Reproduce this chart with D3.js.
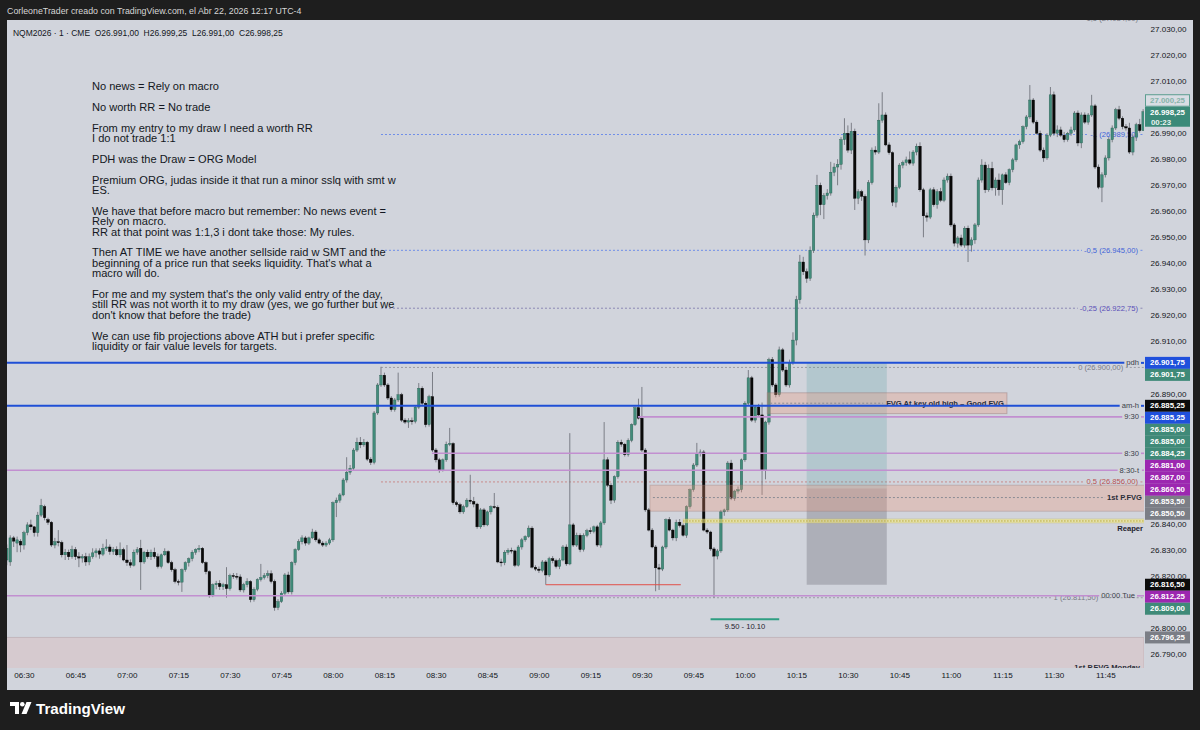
<!DOCTYPE html>
<html>
<head>
<meta charset="utf-8">
<title>NQM2026 · 1 · CME</title>
<script src="https://cdn.jsdelivr.net/npm/d3@7/dist/d3.min.js"></script>
<style>
  html, body { margin:0; padding:0; background:#1e1e1e; overflow:hidden; }
  svg { display:block; }
  text { font-family: "Liberation Sans", Arial, sans-serif; white-space: pre; }
</style>
</head>
<body>
<svg id="chart" width="1200" height="730"></svg>
<script>
// ================= DATA =================
const headerText = "CorleoneTrader creado con TradingView.com, el Abr 22, 2026 12:17 UTC-4";
const symbolName = "NQM2026 · 1 · CME";
const sessionDate = [2026, 3, 22];
const firstBarTime = "06:25";
const countdown = "00:23";

// 1-minute bars [open, high, low, close]
const bars0625 = [
[26826,26832,26824,26830.5],[26825.25,26835.5,26823.75,26834.5],[26834.5,26835.25,26831,26833.25],[26832.5,26835,26829,26833.75],
[26833.25,26834,26829,26831.75],[26831.75,26837.25,26830,26836.5],[26836.5,26840.5,26835.5,26839.5],[26839.5,26841.5,26837.5,26838.75],
[26838.75,26839,26835,26836.5],[26836.5,26844.5,26835,26843.25],[26843.25,26849.5,26842.5,26847],[26846.5,26847.25,26841.25,26842.25],
[26841.5,26842.25,26839.5,26840.5],[26840.5,26841,26831,26831.75],[26831.75,26834.5,26830.5,26833],[26833,26837.5,26831.25,26832.75],
[26832.75,26833.5,26827,26828],[26828,26830.25,26826,26829],[26829,26830,26826,26827.25],[26827.25,26831.5,26826.5,26830],
[26830,26831,26826,26827.25],[26827.25,26829,26823.25,26826.75],[26826.75,26828.25,26825,26827.25],[26827.25,26828.75,26823.75,26825.25],
[26825.25,26828.5,26824,26827.25],[26827.25,26830.5,26826.5,26828.75],[26828.75,26830.5,26827,26829.5],[26829.5,26830.5,26826.5,26828.25],
[26828.25,26832.25,26827.5,26830.5],[26830.5,26834,26829.5,26831],[26831,26832,26828,26829.25],[26829.25,26831,26828,26830],
[26830,26831.25,26827.5,26828],[26828,26832.75,26827,26830],[26830,26830.75,26825.5,26826]
];
const bars0700 = [
[26826,26831.75,26823.75,26825],[26825,26826.25,26823,26824],[26824,26830,26823.5,26829],[26829,26831,26828,26830],
[26830.5,26833.75,26814.5,26825.25],[26825.25,26829.5,26824.5,26829],[26829,26830,26826.5,26827.25],[26827.25,26830,26826,26829],
[26829,26830.75,26826.5,26827.25],[26827.25,26828.5,26822.75,26823.5],[26823.5,26828.5,26822.75,26828],[26828,26830.5,26827.5,26829.25],
[26829.25,26829.75,26824.5,26825],[26825,26825.75,26821.5,26822.25],[26822.25,26823,26817,26817.75],[26817.75,26818.5,26816.25,26817.5],
[26817.5,26822.75,26813.75,26822.25],[26822.25,26825.5,26821.5,26825],[26825,26827,26823.5,26826.5],[26826.5,26829.75,26825.5,26829],
[26829,26830.5,26828,26830],[26830,26831.75,26829,26830.5],[26830.5,26831,26824.5,26825],[26825,26825.5,26820.5,26821.5],
[26821.5,26822,26811.5,26812.5],[26812.5,26817,26811.75,26816.5],[26816.5,26818,26814.75,26817],[26817,26818.25,26814.5,26815.75],
[26815.75,26817.25,26814.5,26816.5],[26816.5,26823.25,26811.5,26815],[26815,26820.75,26814.25,26820],[26820,26821,26818.75,26819.75],
[26819.75,26821,26818.5,26819.5],[26819.5,26820.5,26813.75,26814.5],[26814.5,26817.25,26813.5,26816.5],[26816.5,26819,26815.5,26817.75],
[26817.75,26818.25,26809.75,26810.75],[26810.75,26815.5,26810,26814.75],[26814.75,26819,26814,26818.5],[26818.5,26824.5,26817.75,26819.25],
[26819.25,26821,26818.5,26820],[26820,26822,26819,26820.75],[26820.75,26822,26817,26817.75],[26817.75,26818.5,26806.5,26807.75],
[26807.75,26811,26806.75,26810],[26810,26814,26809.5,26813.25],[26813.25,26821,26812.5,26820.25],[26820.25,26821.5,26813,26813.75],
[26813.75,26825.5,26812.75,26825],[26825,26830.5,26824,26830],[26830,26834,26829.5,26833],[26833,26835.5,26832,26834.5],
[26834.5,26835.25,26831.5,26832.5],[26832.5,26835,26831.75,26834.5],[26834.5,26838,26834,26836.75],[26836.75,26837.5,26833,26833.75],
[26833.75,26834.5,26832,26832.5],[26832.5,26833.25,26831,26831.75],[26831.75,26833.25,26831,26832.5],[26832.5,26834.5,26831.75,26833.75]
];
const bars0800 = [
[26833.75,26848.5,26833,26848],[26848,26850,26842.5,26849],[26849,26851.75,26848,26851],[26851,26857.5,26850.5,26856.75],
[26856.75,26865.5,26855.75,26859.75],[26859.75,26862.5,26858.75,26861.25],[26861.25,26869,26860.5,26868.25],[26868.25,26873,26867.5,26871.25],
[26871.25,26873.25,26869,26870.25],[26870.25,26872.5,26869.5,26871.25],[26871.25,26871.75,26864,26864.75],[26864.75,26865.5,26862.5,26863.5],
[26863.5,26883.25,26862.75,26882.5],[26882.5,26894,26881.75,26893.25],[26893.25,26900.25,26892.5,26897],[26897,26898,26892.5,26893.25],
[26893.25,26894,26887.5,26888.25],[26888.25,26889,26883,26883.75],[26883.75,26888.25,26883,26887.5],[26887.5,26898,26886.75,26889.5],
[26889.5,26890.25,26879,26879.75],[26879.75,26880.5,26878.25,26879],[26879,26880.5,26876.75,26879.5],[26879.5,26880.75,26878,26879.25],
[26879.25,26885.5,26878.5,26884.75],[26884.75,26894,26884,26892],[26892,26892.75,26885.5,26886.25],[26886.25,26887,26877,26878],
[26878,26889.5,26877.25,26888.75],[26888.75,26898.25,26867.5,26868.25],[26868.25,26869,26863.5,26864.5],[26864.5,26865.25,26859.5,26860.5],
[26860.5,26865,26860,26864.5],[26864.5,26871.5,26863.75,26870.5],[26870.5,26876.75,26869.75,26870.75],[26870.75,26871.25,26847.25,26848],
[26848,26848.75,26846.5,26847.25],[26847.25,26848,26843.75,26844.5],[26844.5,26847.25,26843.75,26846.5],[26846.5,26849.75,26846,26849],
[26849,26858.75,26847.5,26848.5],[26848.5,26850.25,26846.25,26847.5],[26847.5,26848,26838,26838.75],[26838.75,26846,26838,26845.25],
[26845.25,26846,26838.75,26839.5],[26839.5,26845,26839,26844.5],[26844.5,26847,26843.5,26846.5],[26846.5,26851.75,26845.75,26846.25],
[26846.25,26847,26824.75,26825.25],[26825.25,26826.5,26823.5,26825],[26825,26829.75,26824,26829],[26829,26830.5,26828,26829.75],
[26829.75,26830.75,26828.5,26829.5],[26829.5,26830,26823.25,26824],[26824,26831.75,26823.5,26831],[26831,26834.5,26830,26833.75],
[26833.75,26835.5,26833,26835],[26835,26839.25,26834.5,26838.25],[26838.25,26839,26822.75,26823.25],[26823.25,26824,26821.75,26822.5]
];
const bars0900 = [
[26822.5,26823.5,26821,26822],[26822,26826,26821.25,26825.25],[26825.25,26826,26816.5,26820.25],[26820.25,26827.25,26819.5,26826.5],
[26826.5,26827.5,26824.75,26825.75],[26825.75,26826.5,26822.75,26823.5],[26823.5,26826.75,26822.5,26826],[26826,26831.75,26825.5,26831],
[26831,26832,26823.75,26824.5],[26824.5,26874.75,26824,26839.5],[26839.5,26840.25,26831,26831.75],[26831.75,26836.5,26831,26835.5],
[26835.5,26836.25,26829,26830],[26830,26836.25,26829.25,26835.5],[26835.5,26838,26834.75,26837.25],[26837.25,26838.5,26836,26837],
[26837,26839.25,26836.25,26838.75],[26838.75,26839.5,26831,26831.75],[26831.75,26841,26830.75,26840.25],[26840.25,26879,26839.5,26864.5],
[26864.5,26865.5,26854,26854.75],[26854.75,26855.5,26847.5,26849],[26849,26858.5,26848,26858],[26858,26872,26857.25,26871.25],
[26871.25,26872.25,26869.5,26870.5],[26870.5,26871,26865.75,26866.5],[26866.5,26872.75,26865.75,26872],[26872,26878.5,26871.25,26878],
[26878,26885,26877.5,26884.5],[26884.5,26888,26880,26880.5],[26880.5,26892.5,26867.5,26868.25],[26868.25,26869,26844.5,26845.25],
[26845.25,26846,26837,26837.5],[26837.5,26838.25,26830.5,26831],[26831,26831.75,26814,26823],[26823,26824.5,26814.5,26822.5],
[26822.5,26831.5,26821.75,26831],[26831,26842,26830.25,26841.5],[26841.5,26842.5,26837,26837.5],[26837.5,26838,26833.5,26834.5],
[26834.5,26841.5,26833.25,26840.5],[26840.5,26841.75,26838.5,26839.25],[26839.25,26840,26835,26835.5],[26835.5,26847,26834.5,26846.5],
[26846.5,26853.5,26845.75,26853],[26853,26863.25,26852.25,26862.5],[26862.5,26871,26861.75,26867],[26867,26868.5,26865.75,26867.5],
[26867.5,26868.25,26837,26837.5],[26837.5,26838.25,26836,26836.75],[26836.75,26837.25,26829.5,26830.25],[26830.25,26831,26811.5,26827.5],
[26827.5,26830.25,26826.25,26829.5],[26829.5,26845.25,26828.75,26844.5],[26844.5,26845.75,26843,26845.25],[26845.25,26864,26844.5,26863.25],
[26863.25,26864.5,26849,26849.75],[26849.75,26853,26848.75,26852.5],[26852.5,26854.25,26851.5,26853],[26853,26865,26852,26864.5]
];
const bars1000 = [
[26864.5,26887,26863.75,26886.25],[26886.25,26899,26885.5,26896],[26896,26896.75,26879,26879.75],[26879.75,26885.5,26878.75,26884.75],
[26884.75,26886,26881,26881.75],[26881.75,26886.5,26851,26860.5],[26860.5,26879.5,26857,26879],[26879,26903.75,26878,26903],
[26903,26904,26892.5,26893.25],[26893.25,26894,26888.5,26889.5],[26889.5,26908,26888.75,26906.75],[26906.75,26907.5,26898.25,26899],
[26899,26900,26892.5,26893.25],[26893.25,26903,26892.25,26902],[26902,26913.5,26901,26910.5],[26910.5,26927.5,26908.5,26926],
[26926,26943.25,26924.5,26940.5],[26940.5,26942.5,26935.5,26936.75],[26936.75,26938,26932.5,26934.25],[26934.25,26946.5,26933.25,26945],
[26945,26959.5,26944,26958.5],[26958.5,26974,26957.5,26970],[26970,26971,26958.5,26962.5],[26962.5,26967,26957,26966],
[26966,26968.5,26964.5,26967],[26967,26979,26966,26975],[26975,26978.5,26973.5,26977],[26977,26980,26970,26978],
[26978,26988.5,26976,26987.5],[26987.5,26995.75,26985.5,26990],[26990,26993,26982.5,26983.5],[26983.5,26994,26982,26990.75],
[26990.75,26991.75,26960.5,26965],[26965,26968.5,26962.75,26967.5],[26967.5,26968.25,26964,26965.75],[26965.75,26966.5,26943,26949],
[26949,26972,26947.75,26971],[26971,26984.5,26970.25,26983.5],[26983.5,26985,26981.75,26982.75],[26982.75,27001.5,26982,26995],
[26995,27005.75,26994,26997],[26997,26998,26985,26985.5],[26985.5,26986.5,26981.75,26982.5],[26982.5,26983,26962,26963.5],
[26963.5,26970,26961.5,26969.25],[26969.25,26978.5,26968.5,26977.75],[26977.75,26979.5,26976.5,26978.75],[26978.75,26981,26977.5,26979.75],
[26979.75,26983,26977.75,26978.5],[26978.5,26983.5,26977.5,26982.75],[26982.75,26986,26981.5,26985],[26985,26986.5,26967.5,26968.25],
[26968.25,26969,26950,26958.25],[26958.25,26959.5,26956,26957.75],[26957.75,26969,26957,26968.25],[26968.25,26969.25,26961.75,26962.5],
[26962.5,26968.5,26961,26967.5],[26967.5,26969,26963.5,26964.25],[26964.25,26973,26963.5,26972],[26972,26974.5,26971,26973.5]
];
const bars1100 = [
[26973.5,26974.5,26954,26954.75],[26954.75,26955.5,26946.5,26947.75],[26947.75,26950.5,26946,26949.75],[26949.75,26951,26946.25,26947],
[26947,26954.25,26946,26953.5],[26953.5,26954.5,26940.5,26947],[26947,26950,26944.5,26949],[26949,26955.5,26947.5,26954.75],
[26954.75,26973,26954,26972],[26972,26980,26971,26977.75],[26977.75,26979,26967,26968.25],[26968.25,26978,26967.5,26976.5],
[26976.5,26979,26968,26969],[26969,26973,26966,26972],[26972,26974.5,26966,26968.25],[26968.25,26974.5,26962.5,26974],
[26974,26975,26970.5,26971],[26971,26976.5,26970,26976],[26976,26980.5,26975,26979.75],[26979.75,26986,26979,26985.5],
[26985.5,26987.5,26984,26986.75],[26986.75,26993,26986,26992.5],[26992.5,26997,26991.5,26996.25],[26996.25,27008.5,26995.5,27002.75],
[27002.75,27003.5,26993.5,26994.25],[26994.25,26995,26989.5,26990],[26990,26991,26982.75,26983.5],[26983.5,26984.5,26979,26980.5],
[26980.5,26990,26979.75,26989.25],[26989.25,27007.75,26988.5,27004.75],[27004.75,27006,26989,26990],[26990,26993,26988.5,26991.25],
[26991.25,26992.5,26988.5,26989.25],[26989.25,26990.5,26986.5,26987.5],[26987.5,26990.5,26986.75,26990],[26990,26992.5,26989,26991.25],
[26991.25,26998.5,26990.5,26997.75],[26997.75,26998.75,26985,26986.25],[26986.25,26998,26984.25,26997],[26997,26998,26993.5,26994.25],
[26994.25,26997.75,26993.25,26997],[26997,27004.75,26996.25,27000.5],[27000.5,27001.25,26976.25,26977],[26977,26978,26968.5,26969.25],
[26969.25,26975,26963.5,26974],[26974,26981.5,26973,26980.5],[26980.5,26988.5,26979.5,26987.5],[26987.5,26993,26986.5,26992],
[26992,26999.75,26991.25,26999],[26999,27000.5,26995,26995.75],[26995.75,26996.5,26991.5,26992.5],[26992.5,26993.5,26991,26992],
[26992,26994,26982,26982.75],[26982.75,26989.5,26981.5,26988.5],[26988.5,26994,26987,26993.25],[26993.25,26995.5,26990.25,26991],
[26991,26999.25,26991,26998.25]
];

const priceTicks = [26790,26800,26810,26820,26830,26840,26850,26860,26870,26880,26890,26900,26910,26920,26930,26940,26950,26960,26970,26980,26990,27000,27010,27020,27030];
const timeTicks = ["06:30","06:45","07:00","07:15","07:30","07:45","08:00","08:15","08:30","08:45","09:00","09:15","09:30","09:45","10:00","10:15","10:30","10:45","11:00","11:15","11:30","11:45"];

// horizontal levels
const levelNames  = ["pdh", "am-h", "9:30", "8:30", "8:30-t", "00:00 Tue"];
const levelPrices = [26901.75, 26885.25, 26881.00, 26867.00, 26860.50, 26812.25];
const levelStarts = ["06:25", "06:25", "09:30", "08:30", "06:25", "06:25"];

// fibonacci (anchored at 08:14)
const fibStart  = "08:14";
const fibRatios = [-1.5, -1, -0.5, -0.25, 0, 0.5, 1];
const fibPrices = [27034.00, 26989.50, 26945.00, 26922.75, 26900.00, 26856.00, 26811.50];

// zones
const zoneNames   = ["FVG At key old high – Good FVG", "1st P.FVG", "1st P.FVG Monday"];
const zoneTops    = [26890.25, 26854.75, 26796.25];
const zoneBottoms = [26882.25, 26844.75, 26770.00];
const zoneMids    = [26886.25, 26850.00, null];
const zoneStarts  = ["10:06:30", "09:32:20", "06:25"];
const zoneEnds    = ["11:16:20", null, null];

// long position tool
const positionStart = "10:18", positionEnd = "10:41:20";
const positionTarget = 26901.75, positionEntry = 26853.50, positionStop = 26816.50;

// other drawings
const sslqPrice = 26816.50, sslqStart = "09:02", sslqEnd = "09:41:20";
const reaperLabel = "Reaper", reaperPrice = 26841.00, reaperStart = "09:42";
const macroLabel = "9.50 - 10.10", macroStart = "09:50", macroEnd = "10:10", macroPrice = 26803.25;

// price-scale badges
const badgePrices = [27000.25, 26998.25, 26901.75, 26901.75, 26885.25, 26885.25, 26885.00, 26885.00, 26884.25, 26881.00, 26867.00, 26860.50, 26853.50, 26850.50, 26816.50, 26812.25, 26809.00, 26796.25];
const badgeKinds  = ["outline","last","blue","teal","black","blue","teal","teal","teal","purple","purple","purple","gray","gray","black","purple","teal","gray"];

// notes text
const noteLines = [
"No news = Rely on macro", "",
"No worth RR = No trade", "",
"From my entry to my draw I need a worth RR", "I do not trade 1:1", "",
"PDH was the Draw = ORG Model", "",
"Premium ORG, judas inside it that run a minor sslq with smt w", "ES.", "",
"We have that before macro but remember: No news event =", "Rely on macro.", "RR at that point was 1:1,3 i dont take those: My rules.", "",
"Then AT TIME we have another sellside raid w SMT and the", "beginning of a price run that seeks liquidity. That's what a", "macro will do.", "",
"For me and my system that's the only valid entry of the day,", "still RR was not worth it to my draw (yes, we go further but we", "don't know that before the trade)", "",
"We can use fib projections above ATH but i prefer specific", "liquidity or fair value levels for targets."
];

// ================= RENDER =================
const W = 1200, H = 730;
const PL = 7, PR = 1144, PT = 20, PB = 668;
const BG = "#d1d4dc";
const LABEL_FS = 7.6;
const svg = d3.select("#chart");
const parseT = s => { const p = s.split(":").map(Number); return new Date(sessionDate[0], sessionDate[1], sessionDate[2], p[0], p[1], p[2] || 0); };
const loc = d3.formatLocale({decimal: ",", thousands: ".", grouping: [3], currency: ["", ""]});
const fmtPrice = loc.format(",.2f");

const ohlc = [].concat(bars0625, bars0700, bars0800, bars0900, bars1000, bars1100);
const t0 = parseT(firstBarTime);
const bars = ohlc.map((d, i) => ({t: d3.timeMinute.offset(t0, i), o: d[0], h: d[1], l: d[2], c: d[3]}));
const last = bars[bars.length - 1];

const barStep = 3.433;
const x = d3.scaleTime().domain([t0, last.t]).range([6.8, 6.8 + (bars.length - 1) * barStep]);
const y = d3.scaleLinear().domain([26790, 26950]).range([653.7, 237.3]);

function fit(sel, w) {
  sel.each(function () {
    const cur = this.getComputedTextLength();
    const fs = parseFloat(this.getAttribute("font-size"));
    if (cur > 0) this.setAttribute("font-size", (fs * w / cur).toFixed(2));
  });
}
function measure(txt, fs, weight) {
  const t = svg.append("text").attr("font-size", fs).attr("font-weight", weight || "normal").text(txt);
  const w = t.node().getComputedTextLength();
  t.remove();
  return w;
}

// frame + panel
svg.append("rect").attr("width", W).attr("height", H).attr("fill", "#1e1e1e");
svg.append("rect").attr("x", PL).attr("y", PT).attr("width", 1193 - PL).attr("height", 690 - PT).attr("fill", BG);
svg.append("defs").append("clipPath").attr("id", "plotclip")
  .append("rect").attr("x", PL).attr("y", PT).attr("width", PR - PL).attr("height", PB - PT);
const plot = svg.append("g").attr("clip-path", "url(#plotclip)");

// labeled horizontal line helper
function hline(g, x0, x1, yy, label, lineStyle, textStyle, labelRight) {
  const grp = g.append("g");
  let bb = null, t = null;
  if (label) {
    t = grp.append("text").attr("x", labelRight).attr("y", yy).attr("text-anchor", "end")
      .attr("dominant-baseline", "central").attr("font-size", LABEL_FS).text(label);
    Object.entries(textStyle || {}).forEach(([k, v]) => t.attr(k, v));
    bb = t.node().getBBox();
  }
  const segs = bb ? [[x0, bb.x - 2], [bb.x + bb.width + 2, x1]] : [[x0, x1]];
  segs.forEach(([a, b]) => {
    if (b > a) {
      const l = grp.append("line").attr("x1", a).attr("x2", b).attr("y1", yy).attr("y2", yy);
      Object.entries(lineStyle).forEach(([k, v]) => l.attr(k, v));
    }
  });
  if (t) t.raise();
  return grp;
}
const levelRight = n => n === "00:00 Tue" ? 1135 : 1139;

// bottom zone (Monday FVG) and fib (under candles)
const under = plot.append("g");
const zoneFill = ["rgba(240,150,120,0.30)", "rgba(240,150,120,0.30)", "rgba(235,165,155,0.20)"];
const zoneStroke = ["rgba(150,120,120,0.45)", "rgba(150,120,120,0.35)", "rgba(150,120,120,0.25)"];
{
  const i = 2;
  under.append("rect").attr("x", x(parseT(zoneStarts[i])) - 2).attr("width", PR - x(parseT(zoneStarts[i])) + 2)
    .attr("y", y(zoneTops[i])).attr("height", y(zoneBottoms[i]) - y(zoneTops[i]))
    .attr("fill", zoneFill[i]).attr("stroke", zoneStroke[i]);
  under.append("text").attr("x", 1140).attr("y", 667.5).attr("text-anchor", "end").attr("dominant-baseline", "central")
    .attr("font-size", LABEL_FS).attr("font-weight", "bold").attr("fill", "#2a2e39").text(zoneNames[i]);
}
const fibLine = {"-1.5": "#9a9ca4", "-1": "#6f8ee8", "-0.5": "#6f8ee8", "-0.25": "#8b88b5", "0": "#9a9ca4", "0.5": "#c98a8a", "1": "#9a9ca4"};
const fibText = {"-1.5": "#787b86", "-1": "#3f63d8", "-0.5": "#3f63d8", "-0.25": "#5a4fb8", "0": "#787b86", "0.5": "#b9504f", "1": "#787b86"};
fibRatios.forEach((r, i) => {
  const lab = String(r).replace(".", ",") + " (" + fmtPrice(fibPrices[i]) + ")";
  const fy = y(fibPrices[i]);
  // keep fib text clear of a level label sitting on (almost) the same line
  let right = 1138;
  levelNames.forEach((n, j) => {
    if (Math.abs(y(levelPrices[j]) - fy) < 8) right = Math.min(right, levelRight(n) - measure(n, LABEL_FS) - 3);
  });
  hline(under, x(parseT(fibStart)), PR, fy, lab,
    {stroke: fibLine[String(r)], "stroke-width": 1, "stroke-dasharray": "2,2"},
    {fill: fibText[String(r)]}, right);
});

// candles
const cg = plot.append("g");
cg.selectAll("line").data(bars).join("line")
  .attr("x1", d => x(d.t)).attr("x2", d => x(d.t))
  .attr("y1", d => y(d.h)).attr("y2", d => y(d.l))
  .attr("stroke", "#7b7e86").attr("stroke-width", 1);
cg.selectAll("rect").data(bars).join("rect")
  .attr("x", d => x(d.t) - 1.25).attr("width", 2.5)
  .attr("y", d => y(Math.max(d.o, d.c)))
  .attr("height", d => Math.max(0.9, Math.abs(y(d.o) - y(d.c))))
  .attr("fill", d => d.c >= d.o ? "#428c7b" : "#0a0a0a")
  .attr("stroke", d => d.c >= d.o ? "#2b5e53" : "#000").attr("stroke-width", 0.4);

// overlays
const over = plot.append("g");
// position tool
{
  const xa = x(parseT(positionStart)), xb = x(parseT(positionEnd));
  over.append("rect").attr("x", xa).attr("width", xb - xa).attr("y", y(positionTarget)).attr("height", y(positionEntry) - y(positionTarget))
    .attr("fill", "rgba(60,150,150,0.20)");
  over.append("rect").attr("x", xa).attr("width", xb - xa).attr("y", y(positionEntry)).attr("height", y(positionStop) - y(positionEntry))
    .attr("fill", "rgba(100,100,112,0.33)");
}
// FVG zones
[0, 1].forEach(i => {
  const xa = x(parseT(zoneStarts[i]));
  const xb = zoneEnds[i] ? x(parseT(zoneEnds[i])) : PR + 2;
  over.append("rect").attr("x", xa).attr("width", xb - xa).attr("y", y(zoneTops[i])).attr("height", y(zoneBottoms[i]) - y(zoneTops[i]))
    .attr("fill", zoneFill[i]).attr("stroke", zoneStroke[i]).attr("stroke-width", 1);
});
// FVG 0 label + mid line
{
  const t = over.append("text").attr("x", 1004).attr("y", y(zoneMids[0])).attr("text-anchor", "end").attr("dominant-baseline", "central")
    .attr("font-size", LABEL_FS).attr("font-weight", "bold").attr("fill", "#2a2e39").text(zoneNames[0]);
  const bb = t.node().getBBox();
  over.insert("line", "text").attr("x1", x(parseT(zoneStarts[0])) + 3).attr("x2", bb.x - 3)
    .attr("y1", y(zoneMids[0])).attr("y2", y(zoneMids[0])).attr("stroke", "#8a8c94").attr("stroke-dasharray", "2,2");
  t.raise();
}
hline(over, x(parseT(zoneStarts[1])) + 3, PR, y(zoneMids[1]), zoneNames[1],
  {stroke: "#8a8c94", "stroke-dasharray": "2,2", "stroke-width": 1},
  {"font-weight": "bold", fill: "#2a2e39"}, 1142);

// reaper band
{
  const xa = x(parseT(reaperStart));
  over.append("rect").attr("x", xa).attr("width", PR - xa + 2).attr("y", y(reaperPrice) - 2).attr("height", 4)
    .attr("fill", "rgba(245,235,130,0.55)").attr("stroke", "rgba(190,180,90,0.6)").attr("stroke-width", 0.5);
  over.append("line").attr("x1", xa).attr("x2", PR).attr("y1", y(reaperPrice)).attr("y2", y(reaperPrice))
    .attr("stroke", "#b8a83a").attr("stroke-dasharray", "1.5,1.5").attr("stroke-width", 1);
  over.append("text").attr("x", 1143).attr("y", y(reaperPrice) + 7.5).attr("text-anchor", "end").attr("dominant-baseline", "central")
    .attr("font-size", LABEL_FS).attr("font-weight", "bold").attr("fill", "#1e222d").text(reaperLabel);
}

// level lines
const levelStyle = {
  "pdh": {stroke: "#1f4fd6", "stroke-width": 2},
  "am-h": {stroke: "#1f4fd6", "stroke-width": 2}
};
levelNames.forEach((n, i) => {
  const st = levelStyle[n] || {stroke: "#c28fd0", "stroke-width": 1.6};
  hline(over, x(parseT(levelStarts[i])) - 4, PR, y(levelPrices[i]), n, st, {fill: "#3a3e48"}, levelRight(n));
});

// sslq red line
over.append("line").attr("x1", x(parseT(sslqStart))).attr("x2", x(parseT(sslqEnd)))
  .attr("y1", y(sslqPrice)).attr("y2", y(sslqPrice)).attr("stroke", "#e0504a").attr("stroke-width", 1);

// macro window
{
  const xa = x(parseT(macroStart)), xb = x(parseT(macroEnd));
  over.append("line").attr("x1", xa).attr("x2", xb).attr("y1", y(macroPrice)).attr("y2", y(macroPrice))
    .attr("stroke", "#2e9e82").attr("stroke-width", 2);
  over.append("text").attr("x", (xa + xb) / 2).attr("y", y(macroPrice) + 7.5).attr("text-anchor", "middle")
    .attr("dominant-baseline", "central").attr("font-size", LABEL_FS).attr("fill", "#1e222d").text(macroLabel);
}

// notes
{
  const ng = plot.append("g");
  const lines = ng.selectAll("text").data(noteLines).join("text")
    .attr("x", 92).attr("y", (d, i) => 86 + i * 10.4).attr("dominant-baseline", "central")
    .attr("font-size", 10).attr("fill", "#131722").text(d => d);
  let lw = 0;
  lines.each(function () { const w = this.getComputedTextLength(); if (w > lw) lw = w; });
  lines.attr("font-size", (10 * 304 / lw).toFixed(2));
}

// badges layout (computed first so covered ticks can be skipped)
const kindFill = {outline: "#d9dde4", last: "#3b8a79", blue: "#1f50dc", teal: "#3f8a78", black: "#0c0c0c", purple: "#9c27b0", gray: "#7b7e86"};
const badgeItems = badgePrices.map((p, i) => ({p, k: badgeKinds[i], yc: y(p)}));
{
  const lastItem = badgeItems.find(d => d.k === "last");
  lastItem.top = lastItem.yc - 5; lastItem.h = 20;
  const above = badgeItems.filter(d => d !== lastItem && d.yc < lastItem.yc).sort((a, b) => b.yc - a.yc);
  let lim = lastItem.top - 0.5;
  above.forEach(d => { d.h = 11.5; d.top = Math.min(d.yc - 6, lim - d.h); lim = d.top; });
  const below = badgeItems.filter(d => d !== lastItem && d.yc >= lastItem.yc).sort((a, b) => a.yc - b.yc);
  let prev = lastItem.top + lastItem.h;
  below.forEach(d => { d.h = 12; d.top = Math.max(d.yc - 6, prev); prev = d.top + d.h; });
}
const covered = v => badgeItems.some(b => Math.abs(y(v) - (b.top + b.h / 2)) < b.h / 2 + 2.6);

// price axis
const axG = svg.append("g").attr("transform", "translate(1150.5,0)");
axG.call(d3.axisRight(y).tickValues(priceTicks.filter(v => !covered(v))).tickFormat(fmtPrice).tickSize(0).tickPadding(0));
axG.select(".domain").remove();
axG.selectAll("text").attr("fill", "#131722").attr("font-size", 9).attr("font-family", "Liberation Sans, Arial, sans-serif")
  .attr("text-anchor", "start").attr("x", 0).attr("dy", "0.32em");
let axisFs = 8.2;
{
  const tnode = axG.selectAll("text").filter(d => d === 26950).node();
  axisFs = 9 * 36 / tnode.getComputedTextLength();
  axG.selectAll("text").attr("font-size", axisFs.toFixed(2));
}

// badges
{
  const bg = svg.append("g");
  badgeItems.forEach(d => {
    const r = bg.append("rect").attr("x", 1145).attr("y", d.top).attr("width", 45).attr("height", d.h)
      .attr("fill", kindFill[d.k]);
    if (d.k === "outline") r.attr("stroke", "#5c9e90").attr("stroke-width", 1).attr("x", 1145.5).attr("width", 44);
    const tc = d.k === "outline" ? "#86b3aa" : "#ffffff";
    bg.append("text").attr("x", 1167.5).attr("y", d.k === "last" ? d.top + 6 : d.top + d.h / 2)
      .attr("text-anchor", "middle").attr("dominant-baseline", "central")
      .attr("font-size", (axisFs * 0.97).toFixed(2)).attr("font-weight", "bold").attr("fill", tc).text(fmtPrice(d.p));
    if (d.k === "last") {
      bg.append("text").attr("x", 1151).attr("y", d.top + 15.5).attr("dominant-baseline", "central")
        .attr("font-size", (axisFs * 0.97).toFixed(2)).attr("font-weight", "bold").attr("fill", "#e8f2ef").text(countdown);
    }
  });
}

// time axis
const txG = svg.append("g").attr("transform", "translate(0,669)");
txG.call(d3.axisBottom(x).tickValues(timeTicks.map(parseT)).tickFormat(d3.timeFormat("%H:%M")).tickSize(0).tickPadding(0));
txG.select(".domain").remove();
txG.selectAll("text").attr("fill", "#131722").attr("font-size", axisFs.toFixed(2))
  .attr("font-family", "Liberation Sans, Arial, sans-serif").attr("y", 6).attr("dy", "0.32em");

// header
svg.append("rect").attr("x", 0).attr("y", 0).attr("width", W).attr("height", PT).attr("fill", "#1e1e1e");
const ht = svg.append("text").attr("x", 7).attr("y", 10.5).attr("dominant-baseline", "central")
  .attr("font-size", 9).attr("fill", "#d6d6d6").text(headerText);
fit(ht, 295);

// legend
const legend = symbolName + "  O" + fmtPrice(last.o) + "  H" + fmtPrice(last.h) + "  L" + fmtPrice(last.l) + "  C" + fmtPrice(last.c);
const lt = svg.append("text").attr("x", 13).attr("y", 32.5).attr("dominant-baseline", "central")
  .attr("font-size", 9).attr("fill", "#131722").text(legend);
fit(lt, 270);

// footer logo
{
  const fg = svg.append("g").attr("fill", "#ffffff");
  fg.append("path").attr("d", "M10,702 H19 V714 H15 V706 H10 Z");
  fg.append("circle").attr("cx", 22.3).attr("cy", 704.3).attr("r", 2.3);
  fg.append("path").attr("d", "M26.5,702 H31.5 L26.5,714 H21.5 Z");
  const tv = fg.append("text").attr("x", 36).attr("y", 708.5).attr("dominant-baseline", "central")
    .attr("font-size", 15).attr("font-weight", "bold").text("TradingView");
  fit(tv, 89);
}
</script>
</body>
</html>
